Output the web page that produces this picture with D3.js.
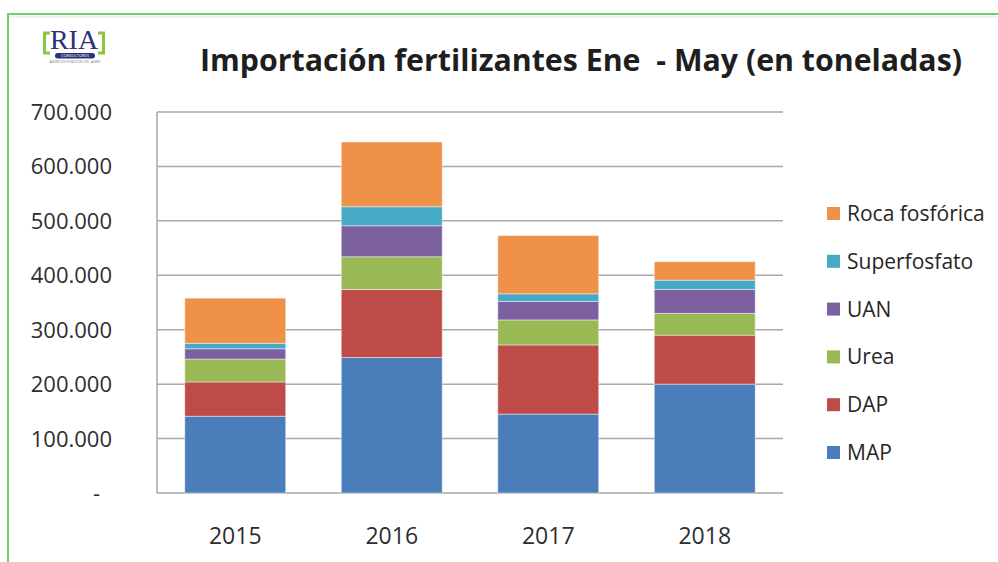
<!DOCTYPE html>
<html>
<head>
<meta charset="utf-8">
<script src="https://cdn.jsdelivr.net/npm/d3@7"></script>
<style>
  body { margin: 0; background: #fff; }
  text { font-family: "Open Sans", sans-serif; }
</style>
</head>
<body>
<div id="chart"></div>
<script>
// data, tonnes
var years = ["2015", "2016", "2017", "2018"];
var series = ["MAP", "DAP", "Urea", "UAN", "Superfosfato", "Roca fosfórica"];
var MAP = [141000, 249000, 145000, 200000];
var DAP = [63000, 125000, 127000, 90000];
var Urea = [42000, 60000, 46000, 40000];
var UAN = [19000, 57000, 34000, 44000];
var Superfosfato = [10000, 35000, 14000, 17000];
var Roca = [83000, 119000, 107000, 34000];
var yTicks = [0, 100000, 200000, 300000, 400000, 500000, 600000, 700000];
var colors = ["#4a7ebb", "#be4b48", "#98b954", "#7d60a0", "#46aac5", "#f0914a"];

var values = [MAP, DAP, Urea, UAN, Superfosfato, Roca];
var rows = years.map(function(y, i){
    var r = {year: y};
    series.forEach(function(s, j){ r[s] = values[j][i]; });
    return r;
});

var W = 998, H = 562;
var margin = {top: 112, left: 157, right: 215, bottom: 69};
var width = W - margin.left - margin.right;
var height = H - margin.top - margin.bottom;

var svg = d3.select("#chart").append("svg")
    .attr("width", W)
    .attr("height", H);

// green page frame
svg.append("line").attr("x1", 8).attr("x2", W).attr("y1", 14).attr("y2", 14)
    .attr("stroke", "#6fcf6f").attr("stroke-width", 2);
svg.append("line").attr("x1", 8).attr("x2", W).attr("y1", 17).attr("y2", 17)
    .attr("stroke", "#e4e4e4").attr("stroke-width", 1);
svg.append("line").attr("x1", 8).attr("x2", 8).attr("y1", 13).attr("y2", H)
    .attr("stroke", "#6fcf6f").attr("stroke-width", 2);

// logo
var logo = svg.append("g").attr("transform", "translate(43,30)");
logo.append("path").attr("d", "M7,3 H1.5 V23 H7").attr("fill", "none")
    .attr("stroke", "#8cc63f").attr("stroke-width", 3);
logo.append("path").attr("d", "M55,3 H60.5 V23 H55").attr("fill", "none")
    .attr("stroke", "#8cc63f").attr("stroke-width", 3);
logo.append("text").attr("x", 31).attr("y", 19).attr("text-anchor", "middle")
    .style("font-family", "'Liberation Serif', serif").style("font-size", "28px")
    .attr("fill", "#2b3177").text("RIA");
logo.append("rect").attr("x", 12).attr("y", 23).attr("width", 40).attr("height", 5.5)
    .attr("rx", 2.7).attr("fill", "#2b3177");
logo.append("text").attr("x", 32).attr("y", 27.2).attr("text-anchor", "middle")
    .style("font-size", "4px").attr("fill", "#fff").text("CONSULTORES");
logo.append("text").attr("x", 32).attr("y", 33).attr("text-anchor", "middle")
    .style("font-size", "3.5px").attr("fill", "#777").text("ASUNTOS PÚBLICOS DEL AGRO");

// title
svg.append("text")
    .attr("x", 200).attr("y", 71)
    .attr("textLength", 762).attr("lengthAdjust", "spacingAndGlyphs")
    .style("font-size", "30px").style("font-weight", "bold")
    .style("white-space", "pre")
    .attr("fill", "#1e1e1e")
    .text("Importación fertilizantes Ene  - May (en toneladas)");

var g = svg.append("g")
    .attr("transform", "translate(" + margin.left + "," + margin.top + ")");

var x = d3.scaleBand().domain(years).range([0, width]).paddingInner(0.355).paddingOuter(0.1775);
var y = d3.scaleLinear().domain([0, 700000]).range([height, 0]);

// gridlines
g.selectAll(".grid").data(yTicks).enter().append("line")
    .attr("class", "grid")
    .attr("x1", 0).attr("x2", width)
    .attr("y1", function(d){ return y(d); })
    .attr("y2", function(d){ return y(d); })
    .attr("stroke", "#a9a9a9").attr("stroke-width", 1.5);
g.append("line").attr("x1", 0).attr("x2", 0).attr("y1", 0).attr("y2", height)
    .attr("stroke", "#a9a9a9").attr("stroke-width", 1.5);

// y labels (excel accounting style: zero shown as a dash, set in a bit)
var fmt = function(d){ return d === 0 ? "-" : d3.format(",")(d).replace(/,/g, "."); };
g.selectAll(".ylab").data(yTicks).enter().append("text")
    .attr("class", "ylab")
    .attr("x", function(d){ return d === 0 ? -57 : -45; })
    .attr("y", function(d){ return y(d) + 8; })
    .attr("text-anchor", "end")
    .style("font-size", "22px").attr("fill", "#2e2e2e")
    .text(fmt);

// stacked bars
var stacked = d3.stack().keys(series)(rows);
var layer = g.selectAll(".layer").data(stacked).enter().append("g")
    .attr("class", "layer")
    .attr("fill", function(d, i){ return colors[i]; });
layer.selectAll("rect").data(function(d){ return d; }).enter().append("rect")
    .attr("x", function(d){ return x(d.data.year); })
    .attr("width", x.bandwidth())
    .attr("y", function(d){ return y(d[1]); })
    .attr("height", function(d){ return y(d[0]) - y(d[1]); })
    .attr("stroke", "#ffffff").attr("stroke-opacity", 0.45).attr("stroke-width", 1);

// x labels
g.selectAll(".xlab").data(years).enter().append("text")
    .attr("class", "xlab")
    .attr("x", function(d){ return x(d) + x.bandwidth() / 2; })
    .attr("y", height + 51)
    .attr("text-anchor", "middle")
    .style("font-size", "23px").attr("fill", "#2e2e2e")
    .text(function(d){ return d; });

// legend, top entry is the top of the stack
var legendItems = series.slice().reverse();
var leg = svg.append("g").attr("transform", "translate(827,207)");
var item = leg.selectAll(".leg").data(legendItems).enter().append("g")
    .attr("class", "leg")
    .attr("transform", function(d, i){ return "translate(0," + (i * 47.8) + ")"; });
item.append("rect").attr("width", 13).attr("height", 13)
    .attr("fill", function(d){ return colors[series.indexOf(d)]; });
item.append("text").attr("x", 20).attr("y", 14)
    .style("font-size", "21px").attr("fill", "#262626")
    .text(function(d){ return d; });
</script>
</body>
</html>
